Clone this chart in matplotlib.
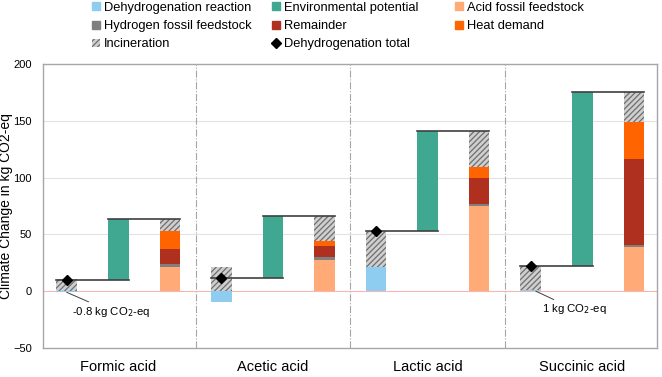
import matplotlib
matplotlib.use("Agg")
import matplotlib.pyplot as plt
from matplotlib.patches import Patch
from matplotlib.lines import Line2D
import numpy as np

plt.rcParams["font.family"] = ["Liberation Sans", "DejaVu Sans"]
plt.rcParams["hatch.linewidth"] = 0.9

# ── Data (kg CO2-eq) ─────────────────────────────────────────────────────────
acids = ["Formic acid", "Acetic acid", "Lactic acid", "Succinic acid"]

# dehydrogenation route
dehyd_reaction = [-0.8, -9.7, 20.9, 1.0]
dehyd_incineration = [10.5, 21.5, 32.0, 21.6]

# environmental potential (gap between routes)
env_potential = [54.3, 54.2, 88.3, 153.0]

# fossil route stack
acid_fossil = [21.4, 27.9, 74.9, 39.0]
hydrogen_fossil = [2.3, 1.8, 1.7, 1.8]
remainder = [13.8, 10.3, 22.7, 75.8]
heat_demand = [15.3, 4.0, 9.9, 32.6]
fossil_incineration = [11.2, 22.0, 32.0, 26.4]

c_reaction = "#8ecdf0"
c_env = "#40a891"
c_acid = "#ffaa77"
c_h2 = "#7f7f7f"
c_rem = "#b0301f"
c_heat = "#ff6400"
c_inc_face = "#cfcfcf"
c_inc_hatch = "#6e6e6e"

fig = plt.figure(figsize=(6.62, 3.77), dpi=100)
ax = fig.add_axes([0.065, 0.077, 0.9275, 0.753])

w = 0.4
n = len(acids)
x_dh = np.arange(n) * 3
x_env = x_dh + 1
x_fos = x_dh + 2

reaction = np.array(dehyd_reaction)
inc_d = np.array(dehyd_incineration)
dh_total = reaction + inc_d
env = np.array(env_potential)

# dehydrogenation bar
ax.bar(x_dh, reaction, width=w, color=c_reaction, zorder=3)
inc_bottom = np.where(reaction > 0, reaction, 0)
ax.bar(x_dh, inc_d, bottom=inc_bottom, width=w, facecolor=c_inc_face,
       edgecolor=c_inc_hatch, hatch="//////", linewidth=0, zorder=3)

# environmental potential (floating)
ax.bar(x_env, env, bottom=dh_total, width=w, color=c_env, zorder=3)

# fossil stack
bottom = np.zeros(n)
for vals, col in [(acid_fossil, c_acid), (hydrogen_fossil, c_h2),
                  (remainder, c_rem), (heat_demand, c_heat)]:
    ax.bar(x_fos, vals, bottom=bottom, width=w, color=col, zorder=3)
    bottom += np.array(vals)
ax.bar(x_fos, fossil_incineration, bottom=bottom, width=w, facecolor=c_inc_face,
       edgecolor=c_inc_hatch, hatch="//////", linewidth=0, zorder=3)

# connector lines
top_total = dh_total + env
for i in range(n):
    ax.plot([x_dh[i] - w / 2, x_env[i] + w / 2], [dh_total[i]] * 2,
            color="#404040", lw=1.2, zorder=4)
    ax.plot([x_env[i] - w / 2, x_fos[i] + w / 2], [top_total[i]] * 2,
            color="#404040", lw=1.2, zorder=4)

ax.plot(x_dh, dh_total, "D", color="black", markersize=5, zorder=5)

# grid, separators, zero line
for y in [50, 100, 150]:
    ax.axhline(y, color="#e2e2e2", lw=0.8, zorder=1)
ax.axhline(0, color="#f2b9b4", lw=0.8, zorder=2)
for xs in [2.5, 5.5, 8.5]:
    ax.axvline(xs, color="#a6a6a6", lw=0.8, ls="-.", zorder=1)

ax.set_xlim(-0.46, 11.45)
ax.set_ylim(-50, 200)
ax.set_yticks(np.arange(-50, 201, 50))
ax.set_xticks(x_env)
ax.set_xticklabels(acids, fontsize=10.5)
ax.tick_params(axis="x", length=0, pad=9)
ax.tick_params(axis="y", length=0, labelsize=8, pad=8)
for s in ax.spines.values():
    s.set_color("#a6a6a6")
    s.set_linewidth(1.0)
fig.text(6 / 662, 1 - 206 / 377, "Climate Change in kg CO2-eq", fontsize=10,
         rotation=90, ha="center", va="center")

# annotations
ax.annotate("-0.8 kg CO$_2$-eq", xy=(x_dh[0], -1), xytext=(x_dh[0] + 0.1, -18),
            fontsize=8.2, va="center", ha="left",
            arrowprops=dict(arrowstyle="-", color="#404040", lw=0.7,
                            shrinkA=0, shrinkB=0))
ax.annotate("1 kg CO$_2$-eq", xy=(x_dh[3] + 0.1, 0), xytext=(x_dh[3] + 0.22, -16),
            fontsize=8.2, va="center", ha="left",
            arrowprops=dict(arrowstyle="-", color="#404040", lw=0.7,
                            shrinkA=0, shrinkB=0))

# legend: three single-column blocks
sq = dict(marker="s", linestyle="none", markersize=5.5)
columns = [
    ([Line2D([], [], color=c_reaction, **sq),
      Line2D([], [], color=c_h2, **sq),
      Patch(facecolor=c_inc_face, edgecolor=c_inc_hatch, hatch="//////", linewidth=0)],
     ["Dehydrogenation reaction", "Hydrogen fossil feedstock", "Incineration"], 83),
    ([Line2D([], [], color=c_env, **sq),
      Line2D([], [], color=c_rem, **sq),
      Line2D([], [], color="black", marker="D", linestyle="none", markersize=5)],
     ["Environmental potential", "Remainder", "Dehydrogenation total"], 263),
    ([Line2D([], [], color=c_acid, **sq),
      Line2D([], [], color=c_heat, **sq)],
     ["Acid fossil feedstock", "Heat demand"], 446),
]
for hs, ls, xpx in columns:
    fig.legend(hs, ls, loc="upper left", bbox_to_anchor=(xpx / 662, 1.02),
               ncol=1, frameon=False, fontsize=9.3, handlelength=0.6,
               handleheight=0.6, handletextpad=0.3,
               labelspacing=0.5, borderpad=0.2)

fig.savefig("out.png", dpi=100)
